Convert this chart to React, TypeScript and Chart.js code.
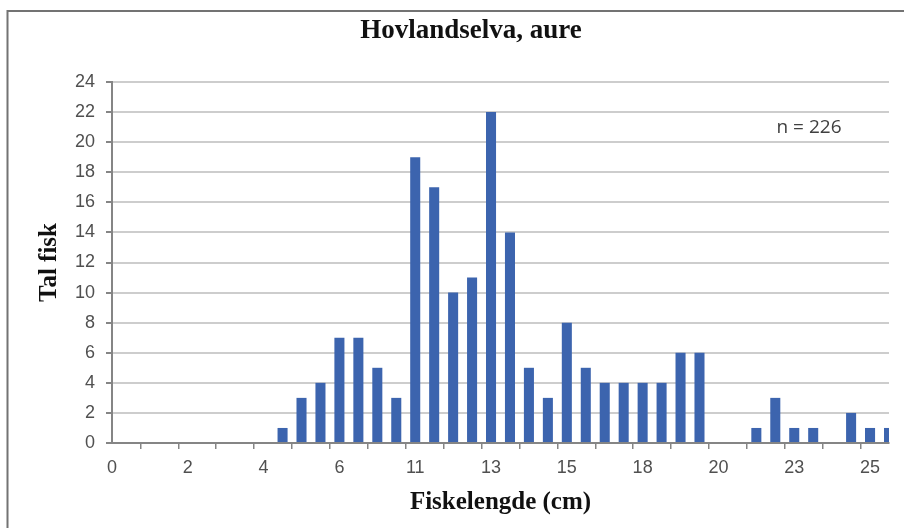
import React, { useEffect, useRef } from "react";
import { Chart, registerables } from "chart.js";

Chart.register(...registerables);

const chartTitle = "Hovlandselva, aure";
const yAxisTitle = "Tal fisk";
const xAxisTitle = "Fiskelengde (cm)";
const sampleNote = "n = 226";

// 42 length classes; only every 4th carries a printed label
const categories = [
  "0", "", "", "", "2", "", "", "", "4", "", "", "",
  "6", "", "", "", "11", "", "", "", "13", "", "", "",
  "15", "", "", "", "18", "", "", "", "20", "", "", "",
  "23", "", "", "", "25", "",
];

const counts = [
  0, 0, 0, 0, 0, 0, 0, 0, 0, 1, 3, 4,
  7, 7, 5, 3, 19, 17, 10, 11, 22, 14, 5, 3,
  8, 5, 4, 4, 4, 4, 6, 6, 0, 0, 1, 3,
  1, 1, 0, 2, 1, 1,
];

const yTicks = [0, 2, 4, 6, 8, 10, 12, 14, 16, 18, 20, 22, 24];

const BAR = "#3C64AE";
const GRID = "#CDCDCD";
const AXIS = "#858585";
const LABEL = "#505050";

const decorPlugin = {
  id: "decor",
  beforeDraw(chart: any) {
    const { ctx, width, height } = chart;
    ctx.save();
    ctx.fillStyle = "#ffffff";
    ctx.fillRect(0, 0, width, height);
    ctx.strokeStyle = "#737373";
    ctx.lineWidth = 2;
    ctx.beginPath();
    ctx.moveTo(7.5, height);
    ctx.lineTo(7.5, 11);
    ctx.lineTo(width, 11);
    ctx.stroke();
    ctx.restore();
  },
  afterDraw(chart: any) {
    const { ctx } = chart;
    ctx.save();
    ctx.fillStyle = "#111111";
    ctx.font = "bold 27px 'Liberation Serif', 'Times New Roman', serif";
    ctx.textAlign = "center";
    ctx.textBaseline = "alphabetic";
    ctx.fillText(chartTitle, 471, 38);
    ctx.fillStyle = "#404040";
    ctx.font = "19px 'Open Sans', 'Noto Sans', sans-serif";
    ctx.textBaseline = "middle";
    ctx.fillText(sampleNote, 809, 128);
    ctx.restore();
  },
};

export default function App() {
  const canvasRef = useRef<HTMLCanvasElement | null>(null);

  useEffect(() => {
    const canvas = canvasRef.current;
    if (!canvas) return;
    const chart = new Chart(canvas, {
      type: "bar",
      data: {
        labels: categories,
        datasets: [
          {
            data: counts,
            backgroundColor: BAR,
            borderWidth: 0,
            categoryPercentage: 1,
            barPercentage: 0.53,
          },
        ],
      },
      options: {
        responsive: false,
        animation: false,
        layout: { padding: { top: 82, right: 15, left: 0, bottom: 0 } },
        plugins: {
          legend: { display: false },
          title: { display: false },
          tooltip: { enabled: false },
        },
        scales: {
          x: {
            type: "category",
            offset: false,
            afterFit(scale: any) {
              scale.height = 85;
            },
            grid: {
              drawOnChartArea: false,
              drawTicks: true,
              tickLength: 6,
              color: (c: any) => (c.index % 2 === 0 ? AXIS : "rgba(0,0,0,0)"),
              lineWidth: 1.5,
            },
            border: { display: true, color: AXIS, width: 2 },
            ticks: {
              autoSkip: false,
              maxRotation: 0,
              minRotation: 0,
              padding: 8,
              color: LABEL,
              font: { family: "'Liberation Sans', Arial, sans-serif", size: 18 },
            },
            title: {
              display: true,
              text: xAxisTitle,
              color: "#111111",
              font: { family: "'Liberation Serif', 'Times New Roman', serif", size: 25, weight: "bold" },
              padding: { top: 0, bottom: 10 },
            },
          },
          y: {
            min: 0,
            max: 24,
            afterFit(scale: any) {
              scale.width = 112;
            },
            afterBuildTicks(scale: any) {
              scale.ticks = yTicks.map((v) => ({ value: v }));
            },
            grid: {
              color: GRID,
              lineWidth: 2,
              tickColor: AXIS,
              tickLength: 6,
            },
            border: { display: true, color: AXIS, width: 2 },
            ticks: {
              padding: 11,
              color: LABEL,
              font: { family: "'Liberation Sans', Arial, sans-serif", size: 18 },
            },
            title: {
              display: true,
              text: yAxisTitle,
              color: "#111111",
              font: { family: "'Liberation Serif', 'Times New Roman', serif", size: 25, weight: "bold" },
              padding: { top: 35, bottom: 0 },
            },
          },
        },
      },
      plugins: [decorPlugin],
    });
    return () => chart.destroy();
  }, []);

  return (
    <div style={{ position: "fixed", left: 0, top: 0, width: 904, height: 528, background: "#fff" }}>
      <canvas ref={canvasRef} width={904} height={528} style={{ display: "block" }} />
    </div>
  );
}
